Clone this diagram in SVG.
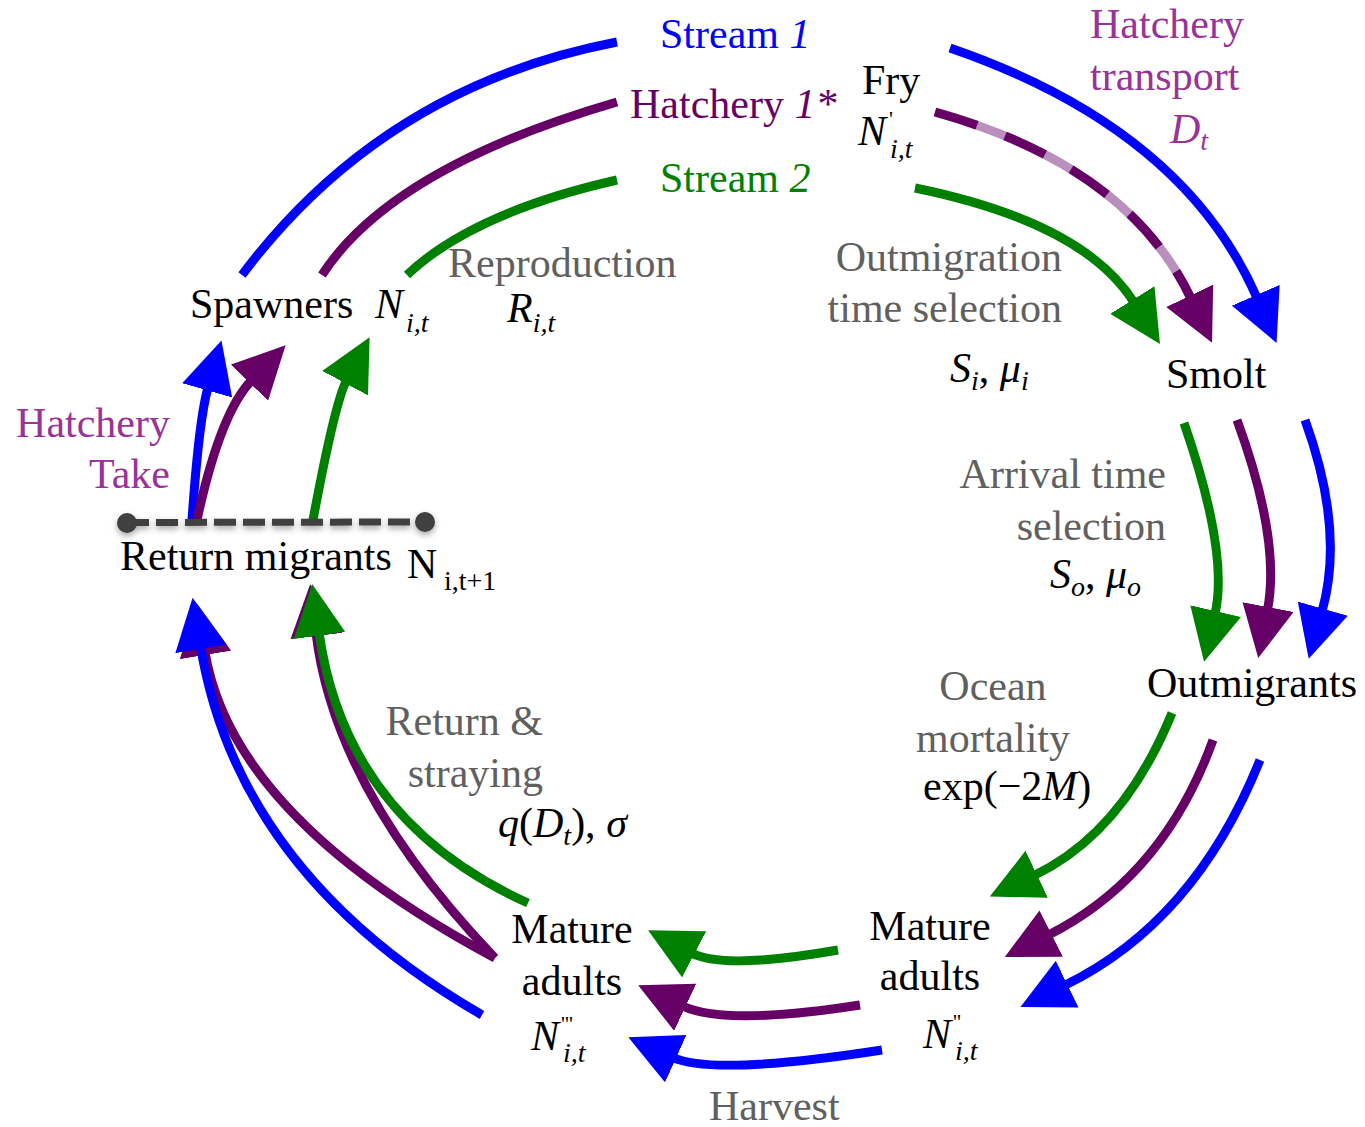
<svg xmlns="http://www.w3.org/2000/svg" width="1365" height="1127" viewBox="0 0 1365 1127">
<defs>
<style>
text{font-family:"Liberation Serif","Times New Roman",serif;font-size:42px;fill:#000}
.g{fill:#606060}
.hm{fill:#993399}
.tb{fill:#0000ff}
.tp{fill:#660066}
.tg{fill:#008000}
.i{font-style:italic}
.n{font-style:normal}
.sub{font-size:28px}
.sup{font-size:22px}
.c{fill:none;stroke-width:9}
.cb{stroke:#0000ff}
.cp{stroke:#660066}
.cg{stroke:#008000}
.cl{stroke:#b88fbd}
</style>
<marker id="ab" viewBox="0 0 52 52" refX="3" refY="26" markerWidth="52" markerHeight="52" markerUnits="userSpaceOnUse" orient="auto"><path d="M0,0 L52,26 L0,52 Z" fill="#0000ff"/></marker>
<marker id="ap" viewBox="0 0 52 52" refX="3" refY="26" markerWidth="52" markerHeight="52" markerUnits="userSpaceOnUse" orient="auto"><path d="M0,0 L52,26 L0,52 Z" fill="#660066"/></marker>
<marker id="ag" viewBox="0 0 52 52" refX="3" refY="26" markerWidth="52" markerHeight="52" markerUnits="userSpaceOnUse" orient="auto"><path d="M0,0 L52,26 L0,52 Z" fill="#008000"/></marker>
<filter id="sh" x="-10%" y="-150%" width="120%" height="400%"><feDropShadow dx="0" dy="3" stdDeviation="3" flood-color="#000" flood-opacity="0.35"/></filter>
</defs>
<rect width="1365" height="1127" fill="#fff"/>

<g id="connectors">
  <!-- spawners to fry (top-left) -->
  <path class="c cb" d="M242,275 Q383,87 617,42"/>
  <path class="c cp" d="M322,275 Q391,168 617,102"/>
  <path class="c cg" d="M407,275 Q472,213 617,180"/>
  <!-- fry to smolt -->
  <path class="c cb" d="M950,48 Q1183,128 1257,298" marker-end="url(#ab)"/>
  <path class="c cl" d="M935,112 Q1128,166 1191,298.5"/>
  <path class="c cp" d="M935,112 Q1128,166 1191,298.5" stroke-dasharray="44 30" marker-end="url(#ap)"/>
  <path class="c cg" d="M915,188 Q1084,222.5 1134,302.5" marker-end="url(#ag)"/>
  <!-- smolt to outmigrants -->
  <path class="c cg" d="M1184,423 Q1229,553 1215,614" marker-end="url(#ag)"/>
  <path class="c cp" d="M1237,420 Q1281,540 1267.5,610" marker-end="url(#ap)"/>
  <path class="c cb" d="M1305,420 Q1345,530 1322,611.5" marker-end="url(#ab)"/>
  <!-- outmigrants to mature adults -->
  <path class="c cg" d="M1172,713 Q1123,833 1034,875.5" marker-end="url(#ag)"/>
  <path class="c cp" d="M1213,740 Q1163.5,877 1048.5,935" marker-end="url(#ap)"/>
  <path class="c cb" d="M1260,760 Q1195,922 1064.5,985.5" marker-end="url(#ab)"/>
  <!-- harvest -->
  <path class="c cg" d="M838,950 Q724,970 691.5,953" marker-end="url(#ag)"/>
  <path class="c cp" d="M860,1005 Q725,1026 682.5,1006" marker-end="url(#ap)"/>
  <path class="c cb" d="M882,1050 Q714,1076 673,1057.5" marker-end="url(#ab)"/>
  <!-- return & straying -->
  <path class="c cp" d="M495,958 Q335,791 316,633" marker-end="url(#ap)"/>
  <path class="c cg" d="M528,903 Q345.6,820.8 319,632.5" marker-end="url(#ag)"/>
  <path class="c cp" d="M495,958 Q232,817 205,652" marker-end="url(#ap)"/>
  <path class="c cb" d="M482,1015 Q238,874 200.5,646" marker-end="url(#ab)"/>
  <!-- return migrants to spawners -->
  <path class="c cb" d="M192,520 Q199,419 208,387.5" marker-end="url(#ab)"/>
  <path class="c cp" d="M197,520 Q220,413 251.5,380.5" marker-end="url(#ap)"/>
  <path class="c cg" d="M313,520 Q335,402 346.5,380.5" marker-end="url(#ag)"/>
  <!-- hatchery take bar -->
  <g filter="url(#sh)">
    <line x1="127" y1="522.5" x2="425" y2="522" stroke="#404040" stroke-width="7" stroke-dasharray="22 7"/>
    <circle cx="127" cy="523" r="10" fill="#404040"/>
    <circle cx="425" cy="522" r="10" fill="#404040"/>
  </g>
</g>

<g id="node-fry">
  <text x="862" y="94">Fry</text>
  <text class="i" x="858" y="145">N<tspan class="n sup" x="889" y="126">'</tspan><tspan class="sub" x="890" y="158">i,t</tspan></text>
</g>
<g id="node-smolt"><text x="1166" y="388">Smolt</text></g>
<g id="node-outmigrants"><text x="1147" y="697">Outmigrants</text></g>
<g id="node-mature-adults-ocean">
  <text x="930" y="940" text-anchor="middle">Mature</text>
  <text x="930" y="990" text-anchor="middle">adults</text>
  <text class="i" x="923" y="1048">N<tspan class="n sup" x="953" y="1029">''</tspan><tspan class="sub" x="955" y="1060">i,t</tspan></text>
</g>
<g id="node-mature-adults-harvested">
  <text x="572" y="943" text-anchor="middle">Mature</text>
  <text x="572" y="995" text-anchor="middle">adults</text>
  <text class="i" x="531" y="1050">N<tspan class="n sup" x="561" y="1031">'''</tspan><tspan class="sub" x="563" y="1062">i,t</tspan></text>
</g>
<g id="node-return-migrants">
  <text x="120" y="570">Return migrants</text>
  <text x="407" y="578" font-size="46">N<tspan class="sub" x="444" y="590">i,t+1</tspan></text>
</g>
<g id="node-spawners">
  <text x="190" y="318">Spawners</text>
  <text class="i" x="375" y="318">N<tspan class="sub" x="406" y="332">i,t</tspan></text>
</g>

<g id="labels">
  <text class="tb" x="660" y="48">Stream <tspan class="i">1</tspan></text>
  <text class="tp" x="630" y="118">Hatchery <tspan class="i">1*</tspan></text>
  <text class="tg" x="660" y="192">Stream <tspan class="i">2</tspan></text>

  <text class="hm" x="1090" y="38">Hatchery</text>
  <text class="hm" x="1090" y="90">transport</text>
  <text class="hm i" x="1170" y="143">D<tspan class="sub" dy="7">t</tspan></text>

  <text class="hm" x="170" y="437" text-anchor="end">Hatchery</text>
  <text class="hm" x="170" y="488" text-anchor="end">Take</text>

  <text class="g" x="448" y="277">Reproduction</text>
  <text class="i" x="507" y="322">R<tspan class="sub" dy="10">i,t</tspan></text>

  <text class="g" x="1062" y="271" text-anchor="end">Outmigration</text>
  <text class="g" x="1062" y="322" text-anchor="end">time selection</text>
  <text class="i" x="950" y="382">S<tspan class="sub" dy="8">i</tspan><tspan dy="-8" class="n">, </tspan>μ<tspan class="sub" dy="8">i</tspan></text>

  <text class="g" x="1166" y="488" text-anchor="end">Arrival time</text>
  <text class="g" x="1166" y="540" text-anchor="end">selection</text>
  <text class="i" x="1050" y="588">S<tspan class="sub" dy="8">o</tspan><tspan dy="-8" class="n">, </tspan>μ<tspan class="sub" dy="8">o</tspan></text>

  <text class="g" x="993" y="700" text-anchor="middle">Ocean</text>
  <text class="g" x="993" y="752" text-anchor="middle">mortality</text>
  <text x="923" y="800">exp(−2<tspan class="i">M</tspan>)</text>

  <text class="g" x="543" y="735" text-anchor="end">Return &amp;</text>
  <text class="g" x="543" y="787" text-anchor="end">straying</text>
  <text x="498" y="837"><tspan class="i">q</tspan>(<tspan class="i">D</tspan><tspan class="sub i" dy="8">t</tspan><tspan dy="-8">), </tspan><tspan class="i">σ</tspan></text>

  <text class="g" x="709" y="1120">Harvest</text>
</g>
</svg>
